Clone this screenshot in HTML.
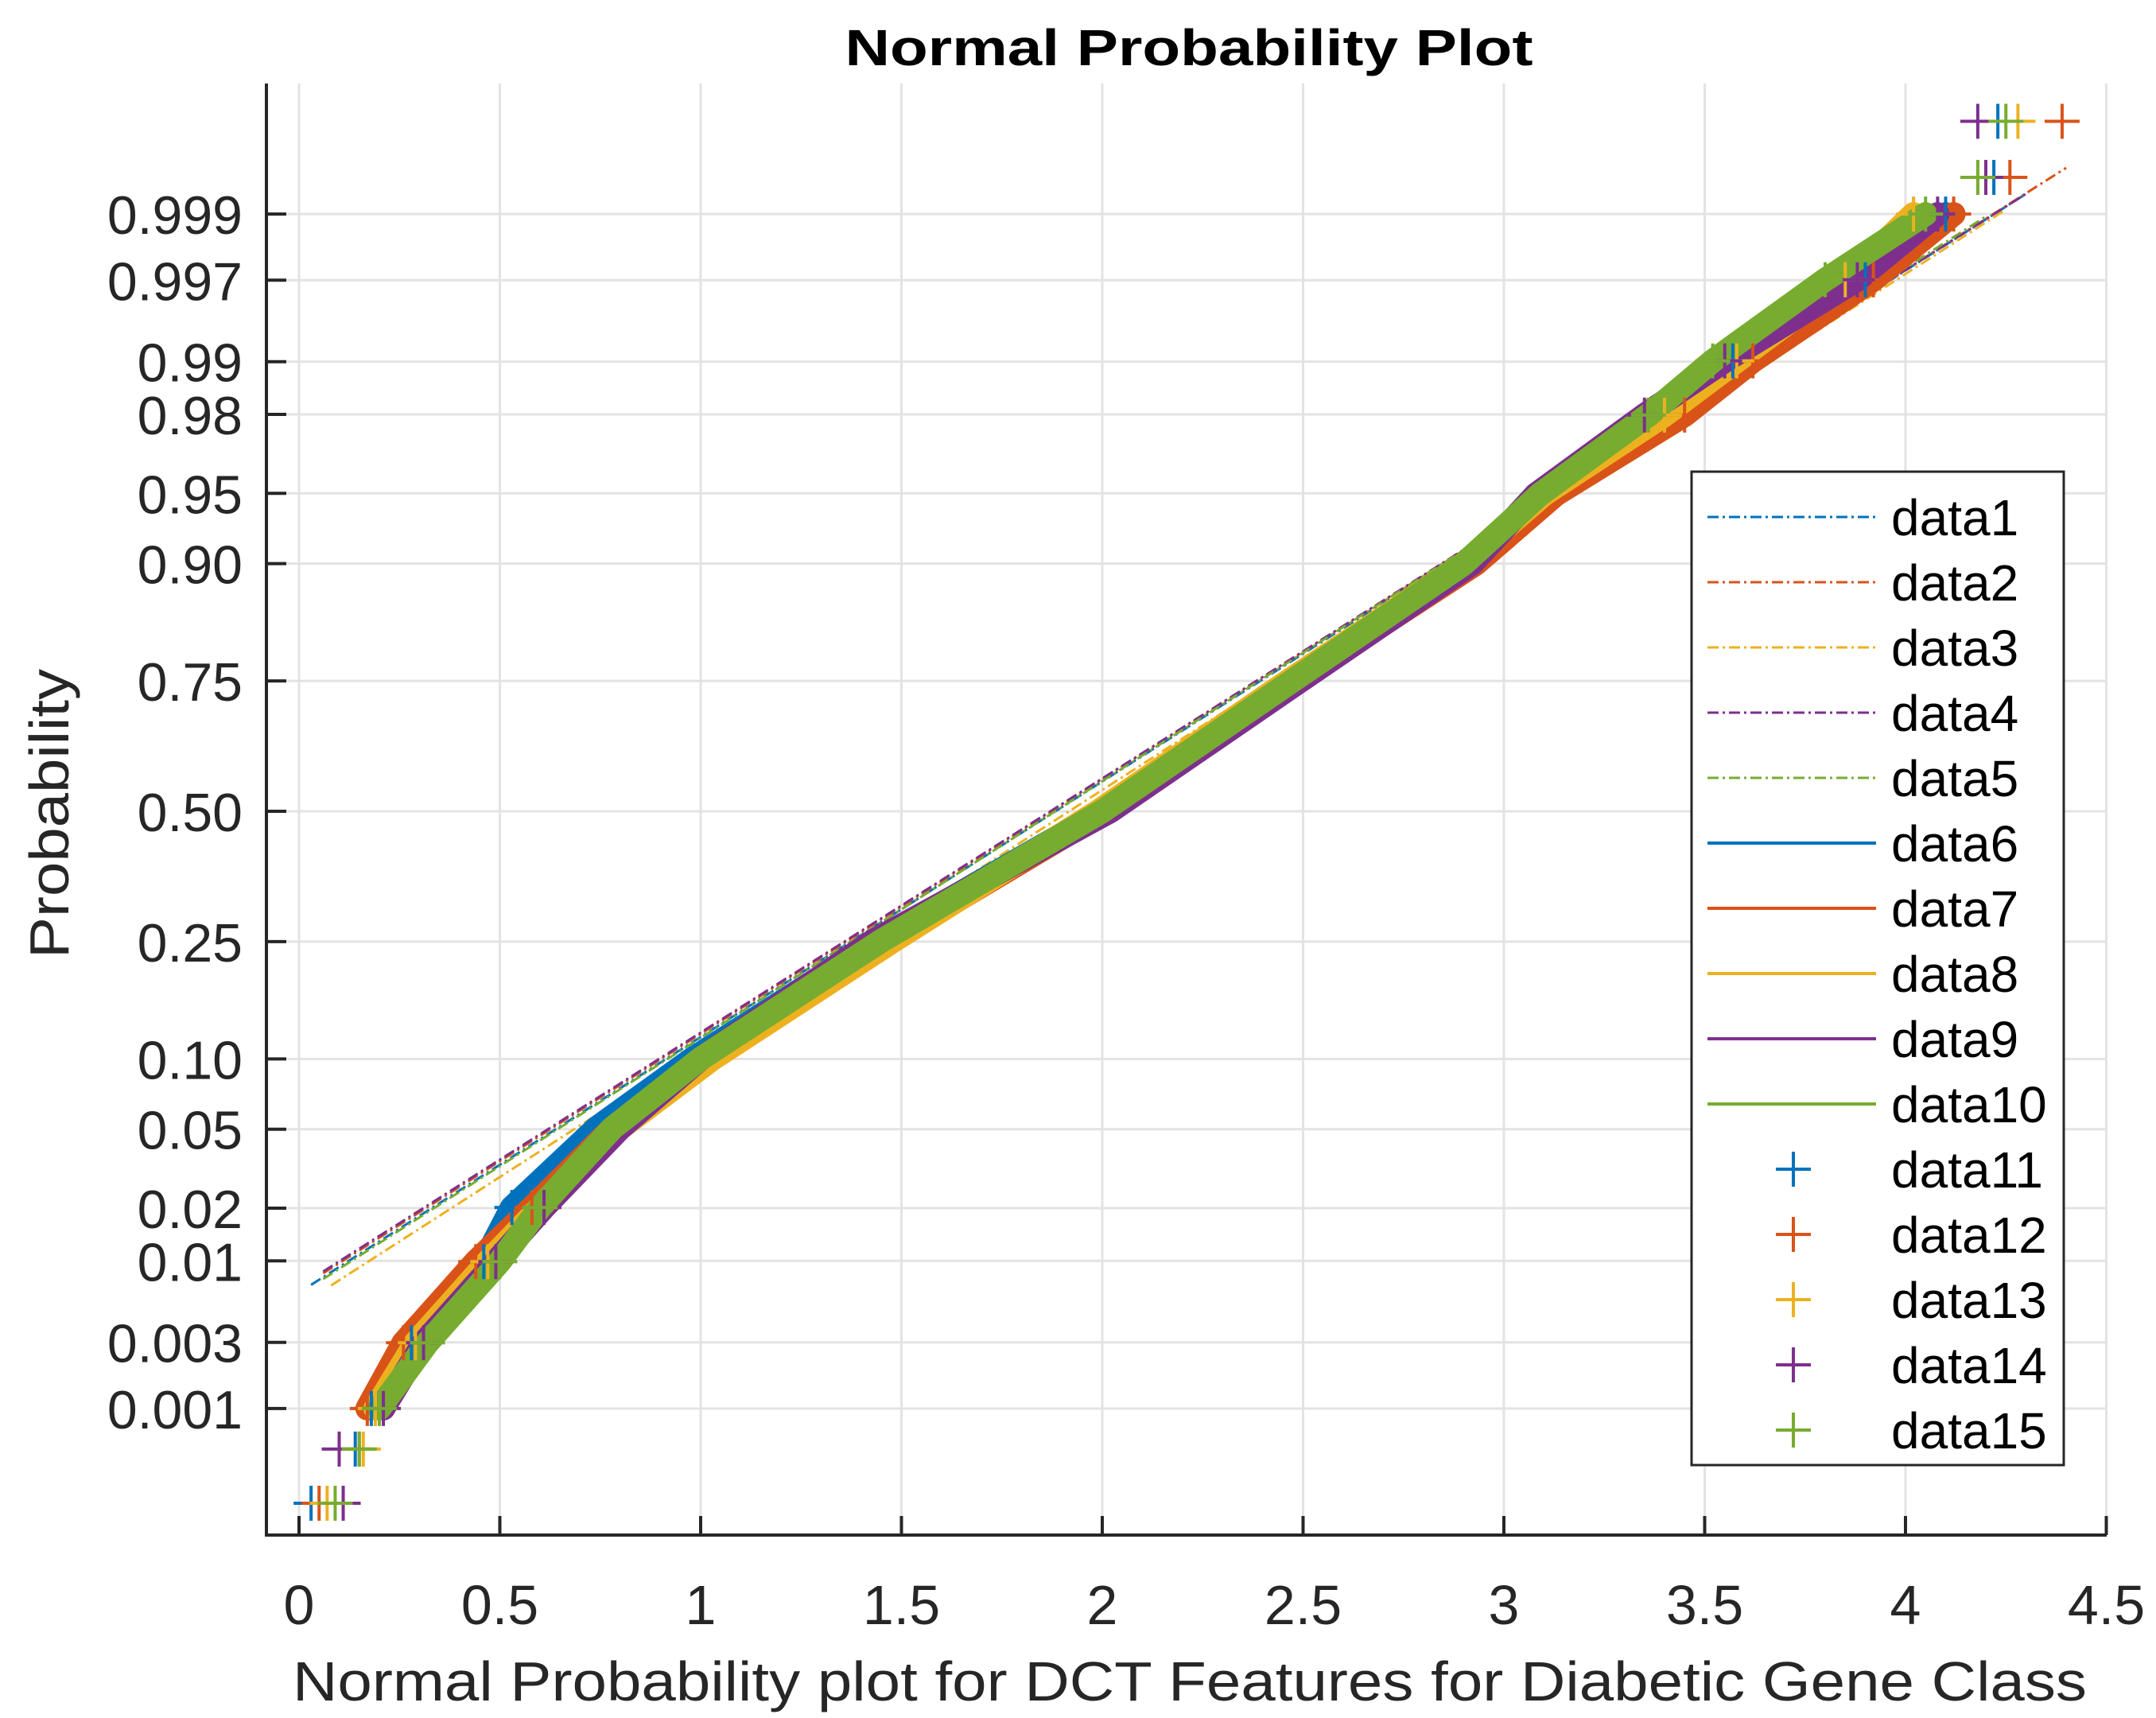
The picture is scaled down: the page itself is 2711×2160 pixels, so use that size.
<!DOCTYPE html>
<html><head><meta charset="utf-8"><style>
html,body{margin:0;padding:0;background:#fff;}
svg{display:block;font-family:"Liberation Sans",Arial,sans-serif;}
</style></head><body>
<svg id="chart" width="2711" height="2160" viewBox="0 0 2711 2160" xmlns="http://www.w3.org/2000/svg">
<rect width="2711" height="2160" fill="#fff"/>
<g id="grid"></g>
<g id="fits"></g>
<g id="bands"></g>
<g id="markers"></g>
<g id="axes"></g>
<text x="1495" y="82" text-anchor="middle" font-size="64" font-weight="bold" fill="#000" textLength="865" lengthAdjust="spacingAndGlyphs">Normal Probability Plot</text>
<text x="1496" y="2138" text-anchor="middle" font-size="70" fill="#262626" textLength="2256" lengthAdjust="spacingAndGlyphs">Normal Probability plot for DCT Features for Diabetic Gene Class</text>
<text transform="translate(86,1023) rotate(-90)" text-anchor="middle" font-size="70" fill="#262626" textLength="364" lengthAdjust="spacingAndGlyphs">Probability</text>
<g id="legend"></g>
</svg>
<script>
const xTicks=[0,0.5,1,1.5,2,2.5,3,3.5,4,4.5];
const xTickLabels=["0","0.5","1","1.5","2","2.5","3","3.5","4","4.5"];
const yTickProbs=[0.001,0.003,0.01,0.02,0.05,0.10,0.25,0.50,0.75,0.90,0.95,0.98,0.99,0.997,0.999];
const yTickLabels=["0.001","0.003","0.01","0.02","0.05","0.10","0.25","0.50","0.75","0.90","0.95","0.98","0.99","0.997","0.999"];
const zList=[-3.58,-3.30,-3.09,-2.75,-2.33,-2.05,-1.64,-1.28,-0.67,0,0.67,1.28,1.64,2.05,2.33,2.75,3.09,3.28,3.57];
const sBlue=[0.03,0.14,0.18,0.28,0.46,0.53,0.74,0.98,1.44,2.00,2.47,2.91,3.10,3.40,3.57,3.90,4.10,4.22,4.23];
const sOrange=[0.05,0.15,0.17,0.26,0.44,0.58,0.78,1.01,1.47,2.01,2.48,2.93,3.13,3.45,3.62,3.92,4.12,4.26,4.39];
const sYellow=[0.07,0.16,0.19,0.29,0.47,0.60,0.80,1.03,1.48,1.99,2.46,2.90,3.10,3.40,3.58,3.85,4.02,4.20,4.28];
const sPurple=[0.11,0.10,0.21,0.31,0.49,0.61,0.80,1.00,1.43,2.02,2.49,2.92,3.08,3.35,3.55,3.88,4.08,4.20,4.18];
const sGreen=[0.09,0.15,0.20,0.32,0.50,0.60,0.78,1.00,1.45,2.00,2.47,2.90,3.09,3.36,3.52,3.80,4.05,4.18,4.25];
const fitStartX=[0.03,0.06,0.08,0.06,0.06];
const fitEndX=[4.3,4.4,4.25,4.3,4.2];
const fitIntercept=[-2.49,-2.47,-2.56,-2.46,-2.50];
const fitSlope=[1.322,1.318,1.335,1.315,1.328];
const legendLabels=["data1","data2","data3","data4","data5","data6","data7","data8","data9","data10","data11","data12","data13","data14","data15"];

const colors=["#0072BD","#D95319","#EDB120","#7E2F8E","#77AC30"];
const series=[sBlue,sOrange,sYellow,sPurple,sGreen];
const NS="http://www.w3.org/2000/svg";
const X0=376,XU=505,Z0=1020,ZU=243,LEFT=335,RIGHT=2649,TOP=105,BOTTOM=1930;
function xs(v){return X0+v*XU;}
function zs(z){return Z0-z*ZU;}
function invNorm(p){
 const a=[-39.6968302866538,220.946098424521,-275.928510446969,138.357751867269,-30.6647980661472,2.50662827745924];
 const b=[-54.4760987982241,161.585836858041,-155.698979859887,66.8013118877197,-13.2806815528857];
 const c=[-0.00778489400243029,-0.322396458041136,-2.40075827716184,-2.54973253934373,4.37466414146497,2.93816398269878];
 const d=[0.00778469570904146,0.32246712907004,2.445134137143,3.75440866190742];
 const pl=0.02425;let q,r;
 if(p<pl){q=Math.sqrt(-2*Math.log(p));return (((((c[0]*q+c[1])*q+c[2])*q+c[3])*q+c[4])*q+c[5])/((((d[0]*q+d[1])*q+d[2])*q+d[3])*q+1);}
 if(p>1-pl){q=Math.sqrt(-2*Math.log(1-p));return -(((((c[0]*q+c[1])*q+c[2])*q+c[3])*q+c[4])*q+c[5])/((((d[0]*q+d[1])*q+d[2])*q+d[3])*q+1);}
 q=p-0.5;r=q*q;return (((((a[0]*r+a[1])*r+a[2])*r+a[3])*r+a[4])*r+a[5])*q/(((((b[0]*r+b[1])*r+b[2])*r+b[3])*r+b[4])*r+1);
}
function el(tag,attrs,parent){const e=document.createElementNS(NS,tag);for(const k in attrs)e.setAttribute(k,attrs[k]);parent.appendChild(e);return e;}
const grid=document.getElementById('grid'),axes=document.getElementById('axes');
xTicks.forEach((v,i)=>{
 const g=el('line',{x1:xs(v),x2:xs(v),y1:TOP,y2:BOTTOM,stroke:'#e3e3e3','stroke-width':3},grid);
 
 
 const t=el('line',{x1:xs(v),x2:xs(v),y1:BOTTOM,y2:BOTTOM-24,stroke:'#262626','stroke-width':4},axes);
 
 
 const l=el('text',{x:xs(v),y:2042,'text-anchor':'middle','font-size':70,fill:'#262626'},axes);
 l.textContent=xTickLabels[i];
 
 
});
yTickProbs.forEach((p,i)=>{
 const y=zs(invNorm(p));
 const g=el('line',{x1:LEFT,x2:RIGHT,y1:y,y2:y,stroke:'#e3e3e3','stroke-width':3},grid);
 
 
 const t=el('line',{x1:LEFT,x2:LEFT+25,y1:y,y2:y,stroke:'#262626','stroke-width':4},axes);
 
 
 const l=el('text',{x:305,y:y+25,'text-anchor':'end','font-size':68,fill:'#262626'},axes);
 l.textContent=yTickLabels[i];
 
 
});
const ax1=el('line',{x1:LEFT,x2:LEFT,y1:TOP,y2:BOTTOM+2,stroke:'#262626','stroke-width':4},axes);


const ax2=el('line',{x1:LEFT-2,x2:RIGHT,y1:BOTTOM,y2:BOTTOM,stroke:'#262626','stroke-width':4},axes);



const fits=document.getElementById('fits');
for(let i=0;i<5;i++){
 const xa=fitStartX[i],xb=fitEndX[i];
 const f=el('line',{x1:xs(xa),y1:zs(fitIntercept[i]+fitSlope[i]*xa),x2:xs(xb),y2:zs(fitIntercept[i]+fitSlope[i]*xb),stroke:colors[i],'stroke-width':3,'stroke-dasharray':'14 5 3 5'},fits);
 
 
}
const bands=document.getElementById('bands'),markers=document.getElementById('markers');
for(let i=0;i<5;i++){
 const s=series[i];
 const pts=[];
 for(let j=0;j<zList.length;j++){ if(Math.abs(zList[j])<=3.1) pts.push(xs(s[j])+','+zs(zList[j])); }
 const b=el('polyline',{points:pts.join(' '),fill:'none',stroke:colors[i],'stroke-width':30,'stroke-linejoin':'round','stroke-linecap':'round'},bands);
 
 
 for(let j=0;j<zList.length;j++){
  if(Math.abs(zList[j])<2.0) continue;
  const cx=xs(s[j]),cy=zs(zList[j]),h=22;
  const m=el('path',{d:`M${cx-h},${cy}H${cx+h}M${cx},${cy-h}V${cy+h}`,stroke:colors[i],'stroke-width':4,fill:'none'},markers);
  
  
 }
}
// legend
const lg=document.getElementById('legend');
const box=el('rect',{x:2127,y:593,width:468,height:1249,fill:'#fff',stroke:'#262626','stroke-width':3},lg);


legendLabels.forEach((lab,k)=>{
 const y=650+k*82;
 const c=colors[k%5];
 if(k<5){
  const s=el('line',{x1:2147,x2:2359,y1:y,y2:y,stroke:c,'stroke-width':3,'stroke-dasharray':'14 5 3 5'},lg);
  
  
 }else if(k<10){
  const s=el('line',{x1:2147,x2:2359,y1:y,y2:y,stroke:c,'stroke-width':4},lg);
  
  
 }else{
  const s=el('path',{d:`M2233,${y}H2277M2255,${y-22}V${y+22}`,stroke:c,'stroke-width':4,fill:'none'},lg);
  
  
 }
 const t=el('text',{x:2378,y:y+23,'font-size':64,fill:'#000'},lg);
 t.textContent=lab;
 
 
});
</script>
</body></html>
